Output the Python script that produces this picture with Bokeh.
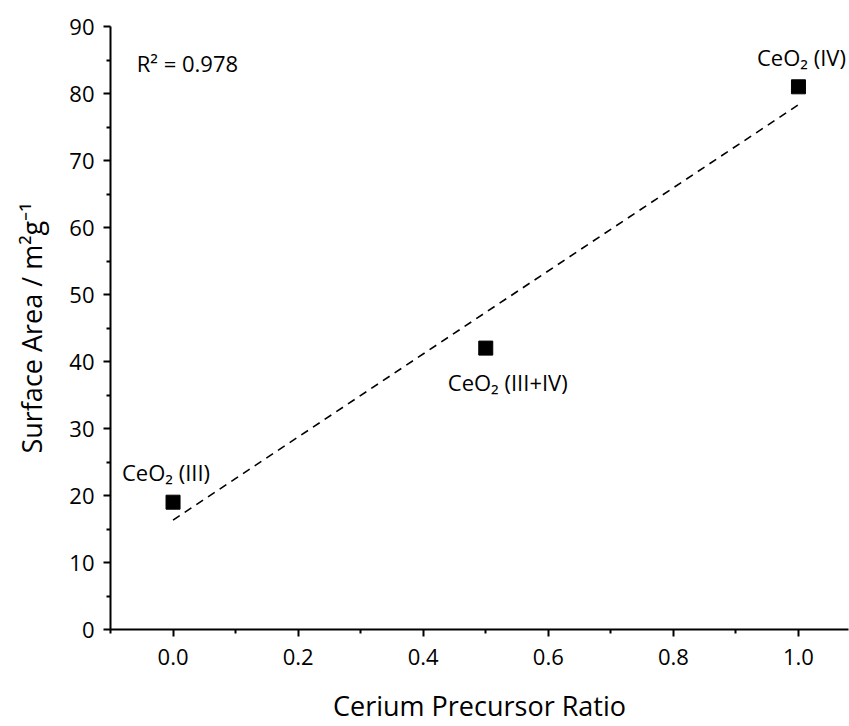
from bokeh.plotting import figure
from bokeh.models import FixedTicker, NumeralTickFormatter, Range1d, ColumnDataSource
from bokeh.core.properties import value
from bokeh.embed import file_html
from bokeh.resources import INLINE

ratio = [0.0, 0.5, 1.0]
surface_area = [19, 42, 81]
labels = ["CeO\u2082 (III)", "CeO\u2082 (III+IV)", "CeO\u2082 (IV)"]
label_dx = [-7, 22, 3]
label_dy = [-30, 34, -30]
fit_x = [0.0, 1.0]
fit_intercept = 16.33
fit_slope = 62.0
r2_text = "R\u00b2 = 0.978"
x_major = [0.0, 0.2, 0.4, 0.6, 0.8, 1.0]
x_minor = [-0.1, 0.1, 0.3, 0.5, 0.7, 0.9]
y_major = [0, 10, 20, 30, 40, 50, 60, 70, 80, 90]
y_minor = [5, 15, 25, 35, 45, 55, 65, 75, 85]

FONT = "Open Sans"

p = figure(width=849, height=726, output_backend="svg", toolbar_location=None,
           x_range=Range1d(-0.1, 1.08), y_range=Range1d(0, 90),
           min_border_left=110, min_border_right=1, min_border_top=26, min_border_bottom=96)
p.outline_line_color = None
p.xgrid.visible = False
p.ygrid.visible = False

fit_y = [fit_intercept + fit_slope * x for x in fit_x]
p.line(fit_x, fit_y, line_color="black", line_width=1.6, line_dash="8 6")

src = ColumnDataSource(dict(x=ratio, y=surface_area, t=labels, dx=label_dx, dy=label_dy))
p.scatter("x", "y", source=src, marker="square", size=14, fill_color="black", line_color="black")
p.text("x", "y", text="t", x_offset="dx", y_offset="dy", source=src,
       text_font=value(FONT), text_font_size="22px", text_align="center",
       text_baseline="middle", text_color="black")

p.text([-0.058], [84.6], text=[r2_text], text_font=value(FONT), text_font_size="22px",
       text_align="left", text_baseline="middle", text_color="black")

for ax in (p.xaxis[0], p.yaxis[0]):
    ax.axis_line_width = 2
    ax.major_tick_line_width = 2
    ax.minor_tick_line_width = 2
    ax.major_tick_out = 7
    ax.major_tick_in = 0
    ax.minor_tick_out = 4
    ax.minor_tick_in = 0
    ax.major_label_text_font = FONT
    ax.major_label_text_font_size = "22px"
    ax.major_label_text_color = "black"
    ax.axis_label_text_font = FONT
    ax.axis_label_text_font_size = "27px"
    ax.axis_label_text_font_style = "normal"
    ax.axis_label_text_color = "black"

p.xaxis.ticker = FixedTicker(ticks=x_major, minor_ticks=x_minor)
p.xaxis.formatter = NumeralTickFormatter(format="0.0")
p.xaxis.axis_label = "Cerium Precursor Ratio"
p.xaxis.major_label_standoff = 12
p.xaxis.axis_label_standoff = 19

p.yaxis.ticker = FixedTicker(ticks=y_major, minor_ticks=y_minor)
p.yaxis.axis_label = "Surface Area / m\u00b2g\u207b\u00b9"
p.yaxis.major_label_standoff = 9
p.yaxis.axis_label_standoff = 16

open("out.html", "w").write(file_html(p, INLINE))
